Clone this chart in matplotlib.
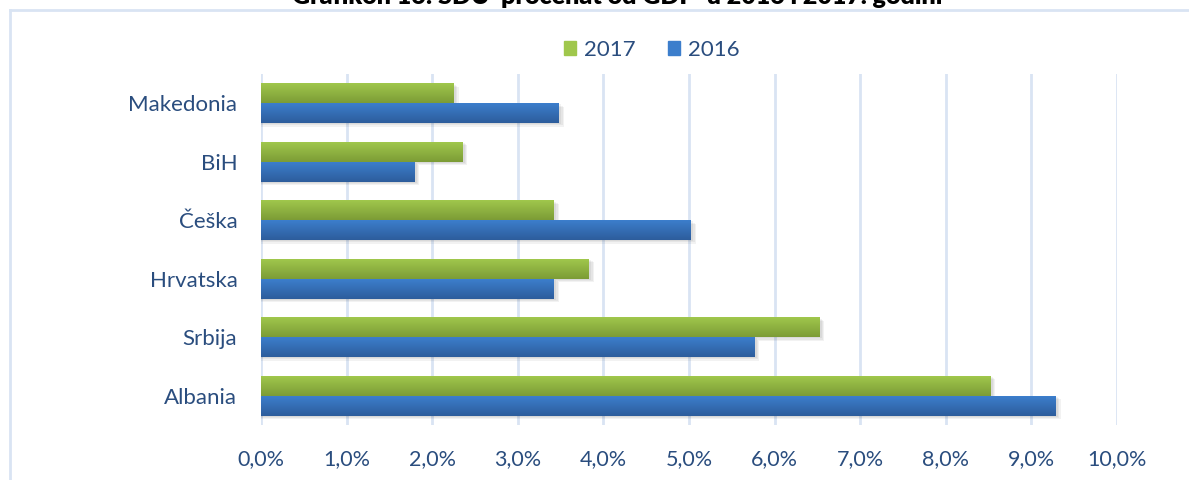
"""Horizontal grouped bar chart: SDU as percent of GDP, 2016 vs 2017."""
import matplotlib.pyplot as plt
import numpy as np
from matplotlib.colors import LinearSegmentedColormap
from matplotlib.patches import Rectangle
from matplotlib.lines import Line2D

countries = ['Makedonia', 'BiH', 'Češka', 'Hrvatska', 'Srbija', 'Albania']
sdu_2017 = [2.25, 2.35, 3.42, 3.83, 6.52, 8.52]
sdu_2016 = [3.48, 1.79, 5.02, 3.42, 5.76, 9.28]
x_ticks = [0, 1, 2, 3, 4, 5, 6, 7, 8, 9, 10]
title = 'Grafikon 16: SDU  procenat od GDP  u 2016 i 2017. godini'

label_color = '#2A4D7E'
grid_color = '#D9E4F3'
green = ('#A0C74C', '#7C9C36')
blue = ('#3C7ECC', '#2D5D9C')

plt.rcParams['font.family'] = ['Lato', 'DejaVu Sans']

fig = plt.figure(figsize=(11.89, 4.8), dpi=100)
ax = fig.add_axes([261 / 1189, 1 - 425 / 480, 856 / 1189, 351 / 480])

h = 0.34
y = np.arange(len(countries))


def gradient_bars(ax, ys, widths, colors):
    cmap = LinearSegmentedColormap.from_list('g', [colors[0], colors[1]])
    grad = np.linspace(0, 1, 64).reshape(-1, 1)
    for yc, w in zip(ys, widths):
        # soft shadow
        for k, a in enumerate([0.05, 0.05, 0.05]):
            ax.add_patch(Rectangle((0, yc - h / 2 + 0.02 + k * 0.02),
                                   w + 0.03 + k * 0.015, h,
                                   color='black', alpha=a, lw=0, zorder=2))
        ax.imshow(grad, cmap=cmap, aspect='auto', zorder=3,
                  extent=(0, w, yc + h / 2, yc - h / 2),
                  interpolation='bilinear')


gradient_bars(ax, y - h / 2, sdu_2017, green)
gradient_bars(ax, y + h / 2, sdu_2016, blue)

ax.set_xlim(0, 10)
ax.set_ylim(len(countries) - 0.5, -0.5)
ax.set_xticks(x_ticks)
ax.set_xticklabels([f'{v:.1f}%'.replace('.', ',') for v in x_ticks])
ax.set_yticks(y)
ax.set_yticklabels(countries)
ax.tick_params(length=0, colors=label_color)
ax.tick_params(axis='x', pad=17, labelsize=15.5)
ax.tick_params(axis='y', pad=17, labelsize=16)
for s in ax.spines.values():
    s.set_visible(False)
ax.grid(axis='x', color=grid_color, lw=2, zorder=0)
ax.set_axisbelow(True)

# legend
handles = [Rectangle((0, 0), 1, 1, color=green[0]),
           Rectangle((0, 0), 1, 1, color=blue[0])]
fig.legend(handles, ['2017', '2016'], loc='center', ncol=2,
           bbox_to_anchor=(652 / 1189, 1 - 50 / 480), frameon=False,
           fontsize=16, labelcolor=label_color, handlelength=0.55,
           handleheight=0.55, columnspacing=1.45, handletextpad=0.35)

# outer frame (top and left edges)
fig.add_artist(Line2D([10 / 1189, 1], [1 - 10 / 480] * 2, color=grid_color,
                      lw=2, transform=fig.transFigure))
fig.add_artist(Line2D([10 / 1189] * 2, [0, 1 - 10 / 480], color=grid_color,
                      lw=2, transform=fig.transFigure))

# title is clipped by the top edge, as in the source image
fig.text(617 / 1189, 1 - 4 / 480, title, ha='center', va='baseline',
         fontsize=18, fontweight='heavy', color='black')

fig.savefig('out.png', dpi=100)
